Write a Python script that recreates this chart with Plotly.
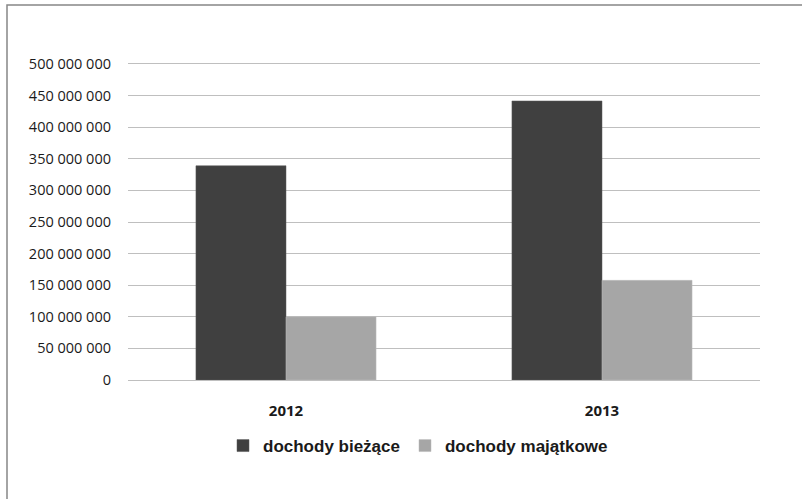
import plotly.graph_objects as go

years = ["2012", "2013"]
biezace = [339000000, 441500000]
majatkowe = [100000000, 157700000]
series_names = ["dochody bieżące", "dochody majątkowe"]
y_ticks = [0, 50000000, 100000000, 150000000, 200000000, 250000000,
           300000000, 350000000, 400000000, 450000000, 500000000]

W, H = 802, 499
L, R, T, B = 128, 42, 64, 119
pw, ph = W - L - R, H - T - B

def px(x):
    return (x - L) / pw

def py(y):
    return (H - B - y) / ph

fig = go.Figure()
fig.add_bar(x=years, y=biezace, name=series_names[0],
            marker=dict(color="#404040", line=dict(color="#5a5a5a", width=0.5)))
fig.add_bar(x=years, y=majatkowe, name=series_names[1],
            marker=dict(color="#a6a6a6", line=dict(color="#bdbdbd", width=0.5)))

fig.update_layout(
    width=W, height=H,
    margin=dict(l=L, r=R, t=T, b=B),
    paper_bgcolor="white", plot_bgcolor="white",
    separators=", ",
    barmode="group", bargap=0.43, bargroupgap=0,
    font=dict(family="Open Sans, Liberation Sans, sans-serif", color="#1a1a1a"),
    showlegend=True,
    legend=dict(orientation="h", x=px(418), xanchor="center", y=py(446), yanchor="middle",
                font=dict(family="Liberation Sans, Arial, sans-serif", size=17, color="#1a1a1a",
                          weight="bold"),
                itemwidth=30, traceorder="normal"),
    shapes=[dict(type="rect", xref="paper", yref="paper",
                 x0=px(7), x1=px(900), y0=py(600), y1=py(5),
                 line=dict(color="#878787", width=1.5), fillcolor="rgba(0,0,0,0)", layer="below")],
)
fig.update_yaxes(range=[0, 500000000], tickvals=y_ticks, tickformat=",d",
                 showgrid=True, gridcolor="#bfbfbf", gridwidth=1.2,
                 zeroline=False, showline=False, ticks="",
                 ticklabelstandoff=16,
                 tickfont=dict(size=14.5, family="Open Sans, sans-serif", color="#1a1a1a"))
fig.update_xaxes(showline=True, mirror=True, linecolor="#bfbfbf", linewidth=1.2, ticks="",
                 ticklabelstandoff=17,
                 tickfont=dict(size=15, family="Open Sans, sans-serif", color="#1a1a1a", weight="bold"))

fig.write_html("out.html", config={"displayModeBar": False},
               post_script="document.body.style.margin='0';document.body.style.overflow='hidden';")
